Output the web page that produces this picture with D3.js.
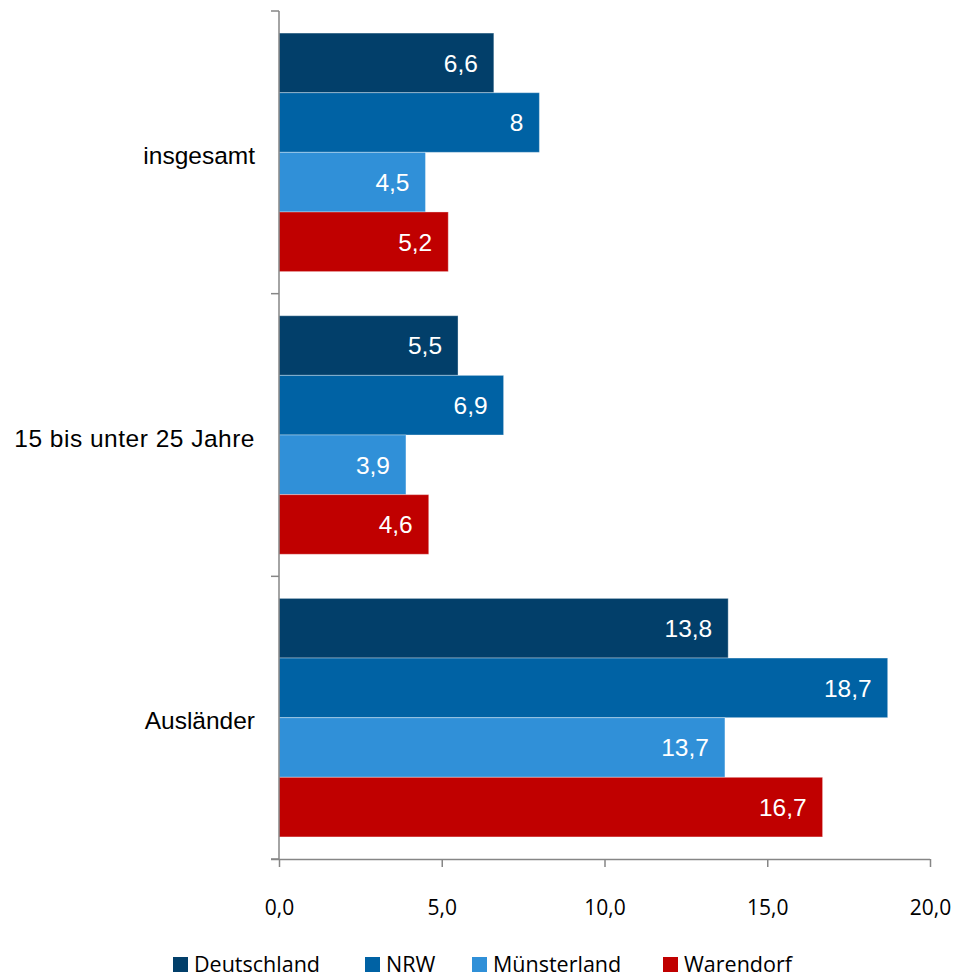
<!DOCTYPE html>
<html><head><meta charset="utf-8">
<script src="https://cdn.jsdelivr.net/npm/d3@7"></script>
<style>body{margin:0;background:#fff}</style>
</head><body>
<svg id="c" width="954" height="978"></svg>
<script>
const categories = ["insgesamt", "15 bis unter 25 Jahre", "Ausländer"];
const seriesNames = ["Deutschland", "NRW", "Münsterland", "Warendorf"];
const seriesColors = ["#023F6A", "#0062A4", "#3090D8", "#C00000"];
const deutschland = [6.6, 5.5, 13.8];
const nrw = [8.0, 6.9, 18.7];
const muensterland = [4.5, 3.9, 13.7];
const warendorf = [5.2, 4.6, 16.7];
const xTicks = [0, 5, 10, 15, 20];

const seriesValues = [deutschland, nrw, muensterland, warendorf];
const svg = d3.select("#c");
const pLeft = 279, pRight = 930, pTop = 11, pBottom = 859;
const x = d3.scaleLinear().domain([0, 20]).range([pLeft, pRight]);
const y = d3.scaleBand().domain(categories).range([pTop, pBottom]).paddingInner(0).paddingOuter(0);
const inner = d3.scaleBand().domain(seriesNames).range([0, y.bandwidth()]).paddingInner(0).paddingOuter(0.37);
const fmt = v => (Number.isInteger(v) ? String(v) : v.toFixed(1).replace(".", ","));

const g = svg.append("g");
categories.forEach((cat, ci) => {
  seriesNames.forEach((s, si) => {
    const v = seriesValues[si][ci];
    const by = y(cat) + inner(s);
    g.append("rect").attr("x", x(0)).attr("y", by)
      .attr("width", x(v) - x(0)).attr("height", inner.bandwidth())
      .attr("fill", seriesColors[si])
      .attr("stroke", "rgba(255,255,255,0.35)").attr("stroke-width", 1);
    g.append("text").attr("x", x(v) - 16).attr("y", by + inner.bandwidth() / 2)
      .attr("dy", "0.36em").attr("text-anchor", "end")
      .attr("fill", "#fff").attr("font-family", "Liberation Sans, Arial, sans-serif")
      .attr("font-size", 24.5).text(fmt(v));
  });
});

// Y axis
const axisColor = "#868686";
svg.append("line").attr("x1", pLeft).attr("x2", pLeft).attr("y1", pTop).attr("y2", pBottom)
  .attr("stroke", axisColor).attr("stroke-width", 1.5);
const yBounds = categories.map(c => y(c)).concat([pBottom]);
yBounds.forEach(yy => {
  svg.append("line").attr("x1", pLeft - 8).attr("x2", pLeft).attr("y1", yy).attr("y2", yy)
    .attr("stroke", axisColor).attr("stroke-width", 1.5);
});
categories.forEach(cat => {
  svg.append("text").attr("x", pLeft - 24).attr("y", y(cat) + y.bandwidth() / 2 + 3)
    .attr("dy", "0.36em").attr("text-anchor", "end")
    .attr("font-family", "Liberation Sans, Arial, sans-serif").attr("font-size", 24.5)
    .attr("letter-spacing", cat.length > 12 ? 0.5 : 0)
    .attr("fill", "#000").text(cat);
});

// X axis
const xAxis = d3.axisBottom(x).tickValues(xTicks).tickSize(8).tickFormat(d => d.toFixed(1).replace(".", ","));
const xa = svg.append("g").attr("transform", `translate(0,${pBottom})`).call(xAxis);
xa.select(".domain").attr("d", `M${pLeft - 8},0.5H${pRight}`).attr("stroke", axisColor).attr("stroke-width", 1.5);
xa.selectAll(".tick line").attr("stroke", axisColor).attr("stroke-width", 1.5);
xa.selectAll(".tick text").attr("y", 48).attr("dy", "0.36em")
  .attr("font-family", "Open Sans, sans-serif").attr("font-size", 21).attr("fill", "#000");

// Legend
const legendX = [173, 365, 472, 663];
const lg = svg.append("g");
seriesNames.forEach((s, i) => {
  lg.append("rect").attr("x", legendX[i]).attr("y", 957).attr("width", 15).attr("height", 15).attr("fill", seriesColors[i]);
  lg.append("text").attr("x", legendX[i] + 21).attr("y", 964).attr("dy", "0.36em")
    .attr("font-family", "Open Sans, sans-serif").attr("font-size", 21.5).attr("fill", "#000").text(s);
});
</script>
</body></html>
